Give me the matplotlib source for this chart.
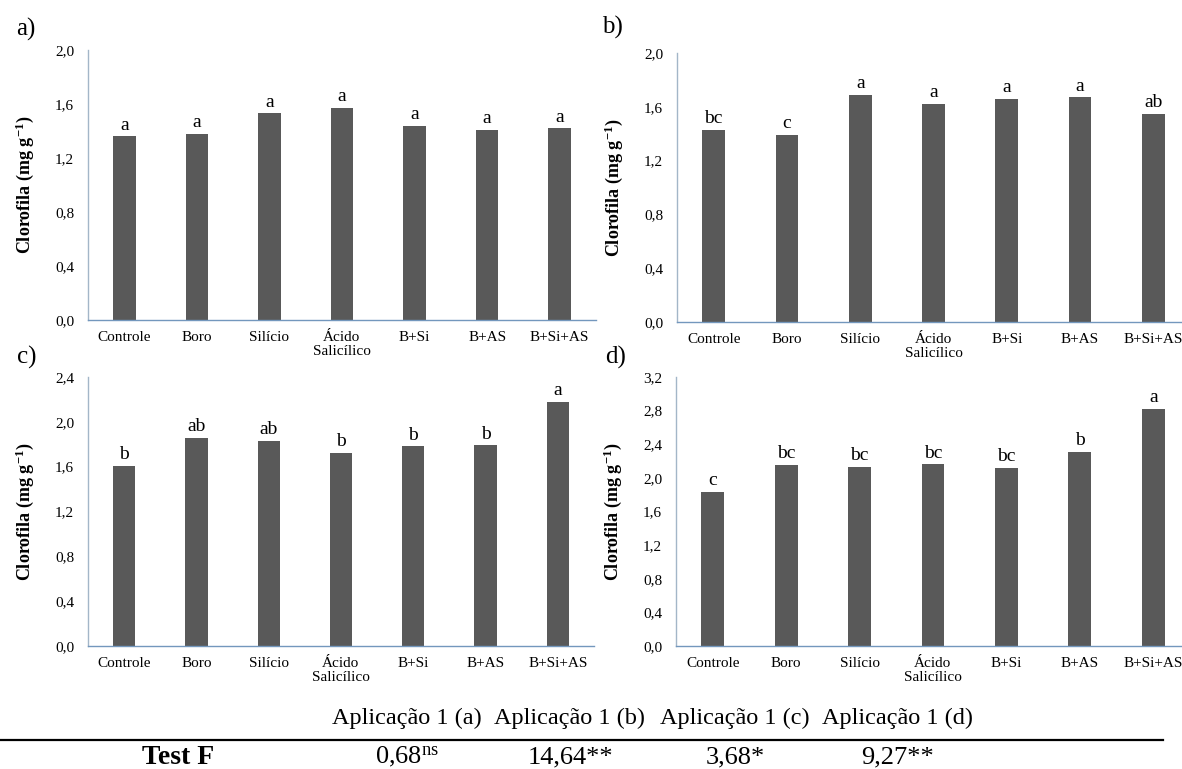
import matplotlib.pyplot as plt
import numpy as np

plt.rcParams['font.family'] = ['Liberation Serif', 'DejaVu Serif']
plt.rcParams['mathtext.fontset'] = 'custom'
plt.rcParams['mathtext.rm'] = 'Liberation Serif'
plt.rcParams['mathtext.bf'] = 'Liberation Serif:bold'
plt.rcParams['mathtext.it'] = 'Liberation Serif:italic'

### Data
categories = ['Controle', 'Boro', 'Silício', 'Ácido\nSalicílico', 'B+Si', 'B+AS', 'B+Si+AS']

vals_a = [1.36, 1.38, 1.53, 1.57, 1.44, 1.41, 1.42]
vals_b = [1.43, 1.39, 1.69, 1.62, 1.66, 1.67, 1.55]
vals_c = [1.61, 1.86, 1.83, 1.72, 1.78, 1.79, 2.18]
vals_d = [1.83, 2.15, 2.13, 2.16, 2.12, 2.31, 2.82]

letters_a = ['a', 'a', 'a', 'a', 'a', 'a', 'a']
letters_b = ['bc', 'c', 'a', 'a', 'a', 'a', 'ab']
letters_c = ['b', 'ab', 'ab', 'b', 'b', 'b', 'a']
letters_d = ['c', 'bc', 'bc', 'bc', 'bc', 'b', 'a']

ymax = [2.0, 2.0, 2.4, 3.2]
panel_names = ['a)', 'b)', 'c)', 'd)']

table_headers = ['Aplicação 1 (a)', 'Aplicação 1 (b)', 'Aplicação 1 (c)', 'Aplicação 1 (d)']
table_values = [r'0,68$^{\mathrm{ns}}$', '14,64**', '3,68*', '9,27**']

### Layout (pixels of a 1182x769 figure)
W, H = 1182, 769
# left, right, top, bottom of each plot area
boxes = [(88, 596, 50, 320),
         (677, 1190, 53, 322),
         (88, 594, 377, 646),
         (676, 1190, 377, 646)]
label_pos = [(16, 29), (602, 27), (17, 357), (605, 357)]

bar_color = '#595959'
left_spine = '#A3B6C8'
bottom_spine = '#7397BD'

fig = plt.figure(figsize=(W / 100, H / 100), dpi=100)

all_vals = [vals_a, vals_b, vals_c, vals_d]
all_letters = [letters_a, letters_b, letters_c, letters_d]

for i in range(4):
    l, r, t, b = boxes[i]
    ax = fig.add_axes([l / W, 1 - b / H, (r - l) / W, (b - t) / H])
    x = np.arange(len(categories))
    ax.bar(x, all_vals[i], width=0.31, color=bar_color)
    ax.set_xlim(-0.5, len(categories) - 0.5)
    ax.set_ylim(0, ymax[i])
    ticks = np.arange(0, ymax[i] + 0.01, 0.4)
    ax.set_yticks(ticks)
    ax.set_yticklabels([f'{v:.1f}'.replace('.', ',') for v in ticks], fontsize=11)
    ax.set_xticks(x)
    ax.set_xticklabels(categories, fontsize=11, linespacing=1.1)
    ax.tick_params(axis='both', length=0, pad=8)
    ax.tick_params(axis='y', pad=10)
    for s in ['top', 'right']:
        ax.spines[s].set_visible(False)
    ax.spines['left'].set_color(left_spine)
    ax.spines['bottom'].set_color(bottom_spine)
    ax.spines['left'].set_linewidth(1.0)
    ax.spines['bottom'].set_linewidth(1.0)
    for xi, v, lt in zip(x, all_vals[i], all_letters[i]):
        ax.annotate(lt, (xi, v), xytext=(0, 2), textcoords='offset points',
                    ha='center', va='bottom', fontsize=14)
    ax.set_ylabel(r'Clorofila (mg g$^{\mathbf{-1}}$)', fontsize=13, fontweight='bold', labelpad=14)
    fig.text(label_pos[i][0] / W, 1 - label_pos[i][1] / H, panel_names[i],
             fontsize=18, ha='left', va='center')

# Test F table
col_x = [407, 570, 735, 897]
for cx, hd, vl in zip(col_x, table_headers, table_values):
    fig.text(cx / W, 1 - 718 / H, hd, fontsize=17.5, ha='center', va='center')
    fig.text(cx / W, 1 - 757 / H, vl, fontsize=19, ha='center', va='center')
fig.text(178 / W, 1 - 757 / H, 'Test F', fontsize=20, fontweight='bold', ha='center', va='center')
fig.add_artist(plt.Line2D([0, 1163 / W], [1 - 740 / H, 1 - 740 / H], color='black', linewidth=1.6))

fig.savefig('out.png', dpi=100)
